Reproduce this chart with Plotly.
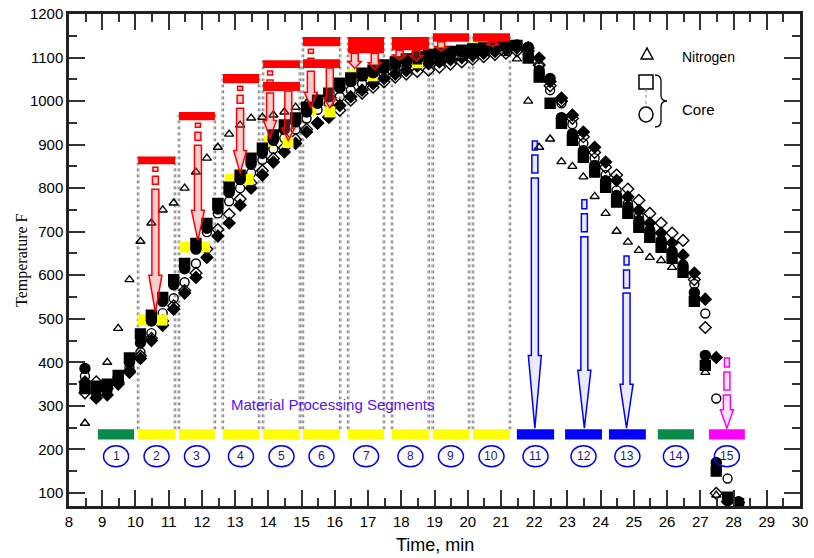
import plotly.graph_objects as go

# ---------------- data ----------------
time_min = [8.48, 8.82, 9.15, 9.48, 9.82, 10.15, 10.48, 10.82, 11.15, 11.48,
            11.82, 12.15, 12.48, 12.82, 13.15, 13.48, 13.82, 14.15, 14.48, 14.82,
            15.15, 15.48, 15.82, 16.15, 16.48, 16.82, 17.15, 17.48, 17.82, 18.15,
            18.48, 18.82, 19.15, 19.48, 19.82, 20.15, 20.48, 20.82, 21.15, 21.48,
            21.82, 22.15, 22.48, 22.82, 23.15, 23.48, 23.82, 24.15, 24.48, 24.82,
            25.15, 25.48, 25.82, 26.15, 26.48, 26.82, 27.15, 27.48, 27.82, 28.15]

nitrogen = [260, None, 400, 478, 590, 678, 720, 750, 766, 800,
            837, 869, 894, 924, 945, 961, 963, 968, 975, 986,
            995, 1005, 1015, 1030, 1042, 1052, 1062, 1070, 1078, 1085,
            1090, 1095, 1100, 1105, 1108, 1112, 1115, 1117, 1110, 1097,
            1000, 894, 913, 861, 850, 826, 781, 742, 701, 676,
            657, 641, 634, 618, 600, 554, 377, 95, 80, None]

core_square = [340, 345, 350, 370, 410, 465, 508, 549, 590, 627,
               673, 719, 765, 802, 830, 869, 892, 922, 945, 961,
               986, 1002, 1018, 1041, 1053, 1064, 1071, 1083, 1090, 1097,
               1102, 1107, 1110, 1114, 1117, 1120, 1122, 1125, 1127, 1128,
               1099, 1055, 995, 949, 910, 871, 837, 802, 768, 742,
               710, 687, 664, 639, 607, 540, 393, 150, 90, 75]

core_dot = [386, 335, 340, 365, 400, 445, 495, 540, 578, 615,
            660, 708, 752, 790, 820, 855, 880, 910, 935, 952,
            975, 995, 1010, 1030, 1045, 1058, 1065, 1075, 1085, 1092,
            1098, 1103, 1106, 1110, 1113, 1116, 1120, 1123, 1126, 1129,
            1124, 1070, 1052, 962, 925, 886, 852, 817, 783, 757,
            725, 702, 679, 654, 622, 560, 416, 170, 85, 80]

core_circle = [368, 325, 332, 360, 388, 423, 467, 513, 547, 584,
               627, 699, 742, 770, 800, 835, 865, 890, 915, 935,
               960, 980, 995, 1010, 1025, 1040, 1050, 1062, 1072, 1080,
               1088, 1094, 1098, 1102, 1106, 1110, 1114, 1118, 1121, 1124,
               1110, 1078, 1025, 995, 947, 903, 869, 830, 795, 765,
               735, 705, 680, 655, 625, 580, 512, 317, 133, None]

core_diamond = [355, 318, 325, 350, 377, 409, 450, 485, 522, 559,
                595, 641, 690, 720, 761, 800, 830, 860, 883, 903,
                929, 949, 963, 990, 1010, 1025, 1040, 1052, 1062, 1070,
                1080, 1086, 1090, 1095, 1100, 1105, 1110, 1114, 1118, 1122,
                1122, 1099, 1045, 1007, 968, 929, 894, 860, 818, 780,
                749, 720, 697, 674, 646, 605, 545, 411, 80, 78]

core_open_diamond = [330, 355, 340, 355, 380, 415, 455, 495, 530, 565,
                     605, 660, 705, 740, 775, 812, 840, 868, 893, 912,
                     935, 950, 963, 979, 1002, 1018, 1032, 1044, 1055, 1062,
                     1068, 1071, 1078, 1085, 1090, 1096, 1102, 1107, 1110, 1115,
                     1115, 1083, 1035, 1000, 960, 918, 882, 848, 830, 798,
                     772, 742, 720, 697, 680, 590, 480, 99, None, None]

setpoint_t = [10.23, 10.80, 11.49, 12.08, 12.85, 13.39, 14.03, 14.59, 15.28,
              15.85, 16.53, 17.13, 17.88, 18.49, 19.13, 19.71, 20.31, 20.91]
setpoint_T = [497, 497, 665, 665, 820, 820, 908, 905, 980,
              975, 1060, 1058, 1092, 1088, 1113, 1113, 1129, 1124]

seg_labels = [str(k) for k in range(1, 16)]
seg_start = [8.87, 10.08, 11.31, 12.63, 13.84, 15.04, 16.40, 17.72, 18.95, 20.16,
             21.48, 22.93, 24.25, 25.72, 27.26]
seg_end = [9.96, 11.19, 12.39, 13.72, 14.95, 16.16, 17.48, 18.83, 20.04, 21.27,
           22.60, 24.04, 25.36, 26.81, 28.34]
seg_colors = ["#0a8a4a"] + ["#ffff00"] * 9 + ["#0000ff"] * 3 + ["#0a8a4a", "#ff00ff"]
seg_bar_lo, seg_bar_hi = 223, 246
seg_label_T = 184

red_seg = [2, 3, 4, 5, 5, 6, 6, 7, 7, 8, 8, 9, 10]
red_lo = [855, 956, 1041, 1076, 1023, 1126, 1076, 1126, 1110, 1126, 1117, 1136, 1136]
red_hi = [873, 975, 1062, 1094, 1044, 1147, 1096, 1147, 1130, 1147, 1137, 1156, 1156]

red_arrow_t = [10.6, 11.88, 13.15, 14.05, 14.6, 15.28, 15.85, 16.6, 17.2, 17.95, 18.45, 19.2, 20.75]
red_arrow_top = [855, 956, 1041, 1076, 1023, 1126, 1076, 1110, 1110, 1117, 1117, 1136, 1136]
red_arrow_tip = [515, 680, 835, 915, 910, 985, 985, 1075, 1072, 1095, 1092, 1115, 1126]

cool_arrow_t = [22.02, 23.51, 24.78, 27.80]
cool_arrow_top = [915, 780, 651, 417]
cool_arrow_tip = [249, 249, 249, 249]
cool_arrow_color = ["#0000ff", "#0000ff", "#0000ff", "#ff00ff"]

# ---------------- layout geometry ----------------
W, H = 814, 558
ML, MR, MT, MB = 69, 14, 14, 52   # plot-area position in the window
X0, X1 = 8, 30
Y0, Y1 = 70, 1200
PW, PH = W - ML - MR, H - MT - MB
DX = (X1 - X0) / PW   # data units per pixel
DY = (Y1 - Y0) / PH


def px(x):
    return (x - ML) / PW


def py(y):
    return (H - MB - y) / PH


fig = go.Figure()

black = "black"
lower_series = [
    (core_open_diamond, "diamond-open", 9),
    (core_diamond, "diamond", 9),
    (core_circle, "circle-open", 9),
]
upper_series = [
    (core_dot, "circle", 10),
    (core_square, "square", 10),
    (nitrogen, "triangle-up-open", 8),
]


def add_series(vals, sym, sz):
    fig.add_trace(go.Scatter(x=time_min, y=vals, mode="markers",
                             marker=dict(symbol=sym, size=sz, color=black,
                                         line=dict(color=black, width=1.4)),
                             showlegend=False, hoverinfo="skip"))


for v, s, z in lower_series:
    add_series(v, s, z)

# setpoint (yellow) squares
fig.add_trace(go.Scatter(x=setpoint_t, y=setpoint_T, mode="markers",
                         marker=dict(symbol="square", size=11, color="#ffff00",
                                     line=dict(width=0)), showlegend=False,
                         hoverinfo="skip"))

for v, s, z in upper_series:
    add_series(v, s, z)

shapes = []
annotations = []

# dotted guide lines for segments 2-10
for k in range(1, 10):
    tops = [red_hi[j] for j in range(len(red_seg)) if red_seg[j] == k + 1]
    top = max(tops)
    for e in (seg_start[k], seg_end[k]):
        for off in (-0.8 * DX, 0.8 * DX):
            shapes.append(dict(type="line", xref="x", yref="y", x0=e + off, x1=e + off,
                               y0=seg_bar_hi, y1=top, layer="below",
                               line=dict(color="#777777", width=1, dash="dot")))

# segment bars and circled labels
for k in range(15):
    shapes.append(dict(type="rect", xref="x", yref="y", x0=seg_start[k], x1=seg_end[k],
                       y0=seg_bar_lo, y1=seg_bar_hi, fillcolor=seg_colors[k],
                       line=dict(width=0), layer="above"))
    cx = (seg_start[k] + seg_end[k]) / 2
    shapes.append(dict(type="circle", xref="x", yref="y",
                       x0=cx - 12.5 * DX, x1=cx + 12.5 * DX,
                       y0=seg_label_T - 10.5 * DY, y1=seg_label_T + 10.5 * DY,
                       line=dict(color="#0000ff", width=1.5), layer="above"))
    annotations.append(dict(x=cx, y=seg_label_T, xref="x", yref="y", text=seg_labels[k],
                            showarrow=False,
                            font=dict(family="Liberation Sans, Arial", size=12,
                                      color="#1a1a80")))


def rect_path(xa, xb, ya, yb):
    return f"M {xa},{ya} L {xb},{ya} L {xb},{yb} L {xa},{yb} Z"


def arrow(t, top, tip, color, fill, r1, r2, width=1.5):
    out = []
    lenpx = (top - tip) / DY
    head = max(0.25 * lenpx, min(7, 0.5 * lenpx))
    sw, hw = 3.5 * DX, 6.5 * DX
    shaft_top = top
    if r1 > 0 and lenpx > 50:
        a = top - 3 * DY
        b = a - r1 * DY
        out.append(dict(type="path", path=rect_path(t - 2.5 * DX, t + 2.5 * DX, b, a)))
        c = b - 5 * DY
        d = c - r2 * DY
        out.append(dict(type="path", path=rect_path(t - 3 * DX, t + 3 * DX, d, c)))
        shaft_top = d - 5 * DY
    hs = tip + head * DY
    p = (f"M {t - sw},{shaft_top} L {t + sw},{shaft_top} L {t + sw},{hs} "
         f"L {t + hw},{hs} L {t},{tip} L {t - hw},{hs} L {t - sw},{hs} Z")
    out.append(dict(type="path", path=p))
    for s in out:
        s.update(xref="x", yref="y", layer="above", fillcolor=fill,
                 line=dict(color=color, width=width))
    return out


for t, a, b in zip(red_arrow_t, red_arrow_top, red_arrow_tip):
    shapes += arrow(t, a, b, "#ff0000", "rgba(255,90,90,0.3)", 4, 8)

for t, a, b, c in zip(cool_arrow_t, cool_arrow_top, cool_arrow_tip, cool_arrow_color):
    fill = "rgba(0,0,255,0.08)" if c == "#0000ff" else "rgba(255,0,255,0.1)"
    shapes += arrow(t, a, b, c, fill, 9, 18)

# red heating bars on top
for sg, lo, hi in zip(red_seg, red_lo, red_hi):
    shapes.append(dict(type="rect", xref="x", yref="y", x0=seg_start[sg - 1],
                       x1=seg_end[sg - 1], y0=lo, y1=hi, fillcolor="#ff0000",
                       line=dict(width=0), layer="above"))

# legend (drawn)
tri = (f"M {px(641)},{py(59)} L {px(653)},{py(59)} L {px(647)},{py(48)} Z")
shapes.append(dict(type="path", xref="paper", yref="paper", path=tri,
                   line=dict(color="black", width=1.5)))
shapes.append(dict(type="rect", xref="paper", yref="paper", x0=px(639), x1=px(653),
                   y0=py(89), y1=py(75), line=dict(color="black", width=1.5)))
shapes.append(dict(type="circle", xref="paper", yref="paper", x0=px(639), x1=px(653),
                   y0=py(122), y1=py(107), line=dict(color="black", width=1.5)))
shapes.append(dict(type="line", xref="paper", yref="paper", x0=px(646), x1=px(646),
                   y0=py(89), y1=py(107), line=dict(color="#888888", width=1, dash="dot")))
brace = (f"M {px(655)},{py(75)} Q {px(661)},{py(75)} {px(661)},{py(81)} "
         f"L {px(661)},{py(95)} Q {px(661)},{py(101)} {px(667)},{py(101)} "
         f"Q {px(661)},{py(101)} {px(661)},{py(107)} L {px(661)},{py(121)} "
         f"Q {px(661)},{py(127)} {px(655)},{py(127)}")
shapes.append(dict(type="path", xref="paper", yref="paper", path=brace,
                   line=dict(color="black", width=1.3)))
annotations.append(dict(x=px(680), y=py(57), xref="paper", yref="paper", text="Nitrogen",
                        showarrow=False, xanchor="left", yanchor="middle",
                        font=dict(family="Liberation Sans, Arial", size=14, color="black")))
annotations.append(dict(x=px(680), y=py(109), xref="paper", yref="paper", text="Core",
                        showarrow=False, xanchor="left", yanchor="middle",
                        font=dict(family="Liberation Sans, Arial", size=15, color="black")))

annotations.append(dict(x=12.81, y=302, xref="x", yref="y",
                        text="Material Processing Segments", showarrow=False,
                        xanchor="left", yanchor="middle",
                        font=dict(family="Liberation Sans, Arial", size=15, color="#5a10ff")))

# axis titles
annotations.append(dict(x=0.5, y=0, xref="paper", yref="paper", text="Time, min",
                        showarrow=False, yanchor="middle", yshift=-39,
                        font=dict(family="Liberation Sans, Arial", size=18, color="black")))
annotations.append(dict(x=0, y=0.5, xref="paper", yref="paper", text="Temperature F",
                        showarrow=False, textangle=-90, xanchor="center", xshift=-47,
                        font=dict(family="Liberation Serif, Times New Roman", size=16,
                                  color="black")))

axis_common = dict(showgrid=False, zeroline=False, showline=True, linecolor="#222222",
                   linewidth=2.5, mirror="allticks", ticks="inside", ticklen=16,
                   tickwidth=2, tickcolor="#333333", ticklabeloverflow="allow",
                   tickfont=dict(family="Liberation Sans, Arial", size=15, color="black"))

fig.update_layout(
    width=W, height=H,
    margin=dict(l=ML, r=MR, t=MT, b=MB),
    plot_bgcolor="white", paper_bgcolor="white", showlegend=False,
    shapes=shapes, annotations=annotations, hovermode=False,
    xaxis=dict(range=[X0, X1], dtick=1, tick0=8, automargin=False,
               minor=dict(dtick=0.5, ticks="inside", ticklen=8, tickwidth=1.5,
                          tickcolor="#333333"), **axis_common),
    yaxis=dict(range=[Y0, Y1], dtick=100, tick0=100, automargin=False,
               minor=dict(dtick=50, ticks="inside", ticklen=8, tickwidth=1.5,
                          tickcolor="#333333"), **axis_common),
)

fig.write_html("out.html", config={"displayModeBar": False},
               post_script="document.body.style.margin='0';"
                           "document.body.style.overflow='hidden';")
